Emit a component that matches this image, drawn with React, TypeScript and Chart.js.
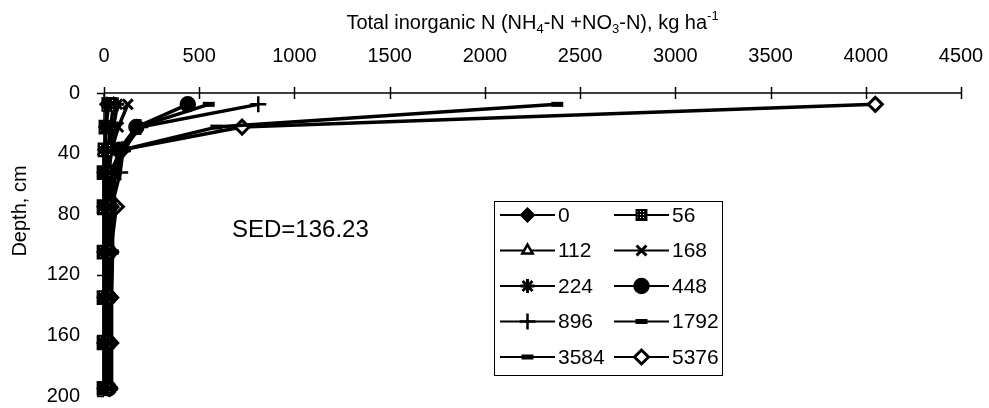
import React, { useEffect, useRef } from 'react';
import { Chart, registerables } from 'chart.js';
import { drawPoint } from 'chart.js/helpers';

Chart.register(...registerables);

// Sampling depths (cm), midpoints of the soil layers
const depths = [7.5, 22.5, 37.5, 52.5, 75, 105, 135, 165, 195];

// Application rates shown in the legend
const rates = ['0', '56', '112', '168', '224', '448', '896', '1792', '3584', '5376'];

// Total inorganic N (kg/ha) at each depth, one array per rate
const n0 = [15, 10, 5, 0, 0, 0, 0, 0, 0];
const n56 = [25, 10, 5, 0, 0, 0, 0, 0, 0];
const n112 = [50, 35, 20, 15, 10, 10, 10, 10, 10];
const n168 = [125, 75, 40, 25, 15, 15, 15, 15, 15];
const n224 = [70, 50, 35, 25, 20, 20, 20, 20, 20];
const n448 = [440, 170, 80, 45, 30, 25, 25, 25, 25];
const n896 = [810, 190, 100, 85, 40, 35, 30, 30, 30];
const n1792 = [550, 175, 110, 60, 40, 45, 35, 35, 35];
const n3584 = [2380, 590, 100, 45, 45, 45, 40, 40, 40];
const n5376 = [4050, 725, 95, 30, 65, 35, 35, 35, 30];

const seriesValues = [n0, n56, n112, n168, n224, n448, n896, n1792, n3584, n5376];

// Axis tick settings
const xMin = 0;
const xMax = 4500;
const xStep = 500;
const yMin = 0;
const yMax = 200;
const yStep = 40;

const sedText = 'SED=136.23';

const FONT = '"Liberation Sans", Arial, Helvetica, sans-serif';

type MarkerStyle = {
  pointStyle: string;
  radius: number;
  fill: string;
  borderWidth: number;
};

const markerStyles: MarkerStyle[] = [
  { pointStyle: 'rectRot', radius: 7, fill: '#000', borderWidth: 1.5 },
  { pointStyle: 'rect', radius: 9, fill: 'pattern', borderWidth: 2 },
  { pointStyle: 'triangle', radius: 6, fill: '#fff', borderWidth: 2.5 },
  { pointStyle: 'crossRot', radius: 7, fill: '#000', borderWidth: 3 },
  { pointStyle: 'star', radius: 7, fill: '#000', borderWidth: 3 },
  { pointStyle: 'circle', radius: 7.5, fill: '#000', borderWidth: 1.5 },
  { pointStyle: 'cross', radius: 8, fill: '#000', borderWidth: 2.5 },
  { pointStyle: 'line', radius: 6, fill: '#000', borderWidth: 5 },
  { pointStyle: 'line', radius: 6, fill: '#000', borderWidth: 5 },
  { pointStyle: 'rectRot', radius: 7, fill: '#fff', borderWidth: 3 },
];

// Dark dotted fill used by the square marker
function makeDottedPattern(): CanvasPattern | string {
  const pc = document.createElement('canvas');
  pc.width = 3;
  pc.height = 3;
  const p = pc.getContext('2d');
  if (!p) return '#333';
  p.fillStyle = '#000';
  p.fillRect(0, 0, 3, 3);
  p.fillStyle = '#fff';
  p.fillRect(1, 1, 1, 1);
  const ctx = document.createElement('canvas').getContext('2d');
  const pat = ctx ? ctx.createPattern(pc, 'repeat') : null;
  return pat || '#333';
}

// Axis lines, crossing tick marks, titles, annotation and the boxed legend
const decorPlugin = {
  id: 'decor',
  beforeDatasetsDraw(chart: any) {
    const { ctx, chartArea, scales } = chart;
    const xs = scales.x;
    const ys = scales.y;
    ctx.save();
    ctx.strokeStyle = '#000';
    ctx.lineWidth = 1.5;
    ctx.beginPath();
    ctx.moveTo(chartArea.left, chartArea.top);
    ctx.lineTo(chartArea.right, chartArea.top);
    ctx.moveTo(chartArea.left, chartArea.top);
    ctx.lineTo(chartArea.left, chartArea.bottom);
    xs.ticks.forEach((t: any) => {
      const px = Math.round(xs.getPixelForValue(t.value)) + 0.5;
      ctx.moveTo(px, chartArea.top - 6);
      ctx.lineTo(px, chartArea.top + 6);
    });
    ys.ticks.forEach((t: any) => {
      const py = Math.round(ys.getPixelForValue(t.value)) + 0.5;
      ctx.moveTo(chartArea.left - 7, py);
      ctx.lineTo(chartArea.left, py);
    });
    ctx.stroke();
    ctx.restore();
  },
  afterDraw(chart: any) {
    const { ctx, chartArea } = chart;
    ctx.save();
    ctx.fillStyle = '#000';
    ctx.textBaseline = 'middle';

    // X-axis title with sub- and superscripts
    const parts: { t: string; k: 'n' | 'sub' | 'sup' }[] = [
      { t: 'Total inorganic N (NH', k: 'n' },
      { t: '4', k: 'sub' },
      { t: '-N +NO', k: 'n' },
      { t: '3', k: 'sub' },
      { t: '-N), kg ha', k: 'n' },
      { t: '-1', k: 'sup' },
    ];
    const fontFor = (k: string) => (k === 'n' ? `20px ${FONT}` : `13px ${FONT}`);
    let total = 0;
    parts.forEach((p) => {
      ctx.font = fontFor(p.k);
      total += ctx.measureText(p.t).width;
    });
    let cx = (chartArea.left + chartArea.right) / 2 - total / 2;
    const ty = 23;
    ctx.textAlign = 'left';
    parts.forEach((p) => {
      ctx.font = fontFor(p.k);
      const dy = p.k === 'sub' ? 6 : p.k === 'sup' ? -7 : 0;
      ctx.fillText(p.t, cx, ty + dy);
      cx += ctx.measureText(p.t).width;
    });

    // Y-axis title
    ctx.save();
    ctx.translate(20, 211);
    ctx.rotate(-Math.PI / 2);
    ctx.textAlign = 'center';
    ctx.font = `20px ${FONT}`;
    ctx.fillText('Depth, cm', 0, 0);
    ctx.restore();

    // SED annotation
    ctx.font = `24px ${FONT}`;
    ctx.textAlign = 'left';
    ctx.fillText(sedText, 232, 230);

    // Legend box
    const bx = 494.5;
    const by = 201.5;
    const bw = 228;
    const bh = 174;
    ctx.strokeStyle = '#000';
    ctx.lineWidth = 1;
    ctx.strokeRect(bx, by, bw, bh);

    const rowY0 = 215;
    const rowDy = 35.5;
    const colX = [500, 614];
    const lineLen = 55;
    ctx.font = `21px ${FONT}`;
    chart.data.datasets.forEach((ds: any, i: number) => {
      const row = Math.floor(i / 2);
      const col = i % 2;
      const y = rowY0 + row * rowDy;
      const x1 = colX[col];
      const x2 = x1 + lineLen;
      ctx.strokeStyle = '#000';
      ctx.lineWidth = 2;
      ctx.beginPath();
      ctx.moveTo(x1, y);
      ctx.lineTo(x2, y);
      ctx.stroke();
      ctx.fillStyle = ds.pointBackgroundColor;
      ctx.strokeStyle = '#000';
      ctx.lineWidth = ds.pointBorderWidth;
      const legendRadius = ds.pointStyle === 'rect' ? 7 : ds.pointRadius;
      drawPoint(ctx, {
        pointStyle: ds.pointStyle,
        radius: legendRadius,
        borderWidth: ds.pointBorderWidth,
        rotation: 0,
      } as any, (x1 + x2) / 2, y);
      ctx.fillStyle = '#000';
      ctx.textAlign = 'left';
      ctx.fillText(ds.label, x2 + 3, y + 1);
    });
    ctx.restore();
  },
};

export default function App() {
  const canvasRef = useRef<HTMLCanvasElement | null>(null);

  useEffect(() => {
    const canvas = canvasRef.current;
    if (!canvas) return;
    const pattern = makeDottedPattern();

    const datasets = rates.map((label, i) => {
      const st = markerStyles[i];
      return {
        label,
        data: depths.map((d, j) => ({ x: seriesValues[i][j], y: d })),
        showLine: true,
        borderColor: '#000',
        borderWidth: 3.5,
        borderJoinStyle: 'round' as const,
        pointStyle: st.pointStyle as any,
        pointRadius: st.radius,
        pointBackgroundColor: st.fill === 'pattern' ? pattern : st.fill,
        pointBorderColor: '#000',
        pointBorderWidth: st.borderWidth,
        clip: false as any,
      };
    });

    const chart = new Chart(canvas, {
      type: 'scatter',
      data: { datasets: datasets as any },
      options: {
        animation: false,
        responsive: false,
        devicePixelRatio: 1,
        events: [],
        layout: { padding: { left: 0, right: 28, top: 0, bottom: 12 } },
        plugins: {
          legend: { display: false },
          tooltip: { enabled: false },
          title: { display: false },
        },
        scales: {
          x: {
            type: 'linear',
            position: 'top',
            min: xMin,
            max: xMax,
            grid: { display: false },
            border: { display: false },
            ticks: {
              stepSize: xStep,
              padding: 17,
              color: '#000',
              maxRotation: 0,
              font: { family: FONT, size: 20 },
              callback: (v: any) => String(v),
            },
            afterFit: (s: any) => {
              s.height = 93;
              s.paddingLeft = 0;
              s.paddingRight = 0;
              s.paddingTop = 0;
              s.paddingBottom = 0;
            },
          },
          y: {
            type: 'linear',
            reverse: true,
            min: yMin,
            max: yMax,
            grid: { display: false },
            border: { display: false },
            ticks: {
              stepSize: yStep,
              padding: 16,
              color: '#000',
              font: { family: FONT, size: 20 },
              callback: (v: any) => String(v),
            },
            afterFit: (s: any) => {
              s.width = 104;
              s.paddingLeft = 0;
              s.paddingRight = 0;
              s.paddingTop = 0;
              s.paddingBottom = 0;
            },
          },
        },
      },
      plugins: [decorPlugin],
    });

    return () => chart.destroy();
  }, []);

  return (
    <div style={{ position: 'fixed', left: 0, top: 0, width: 989, height: 408, background: '#fff' }}>
      <canvas ref={canvasRef} width={989} height={408} style={{ display: 'block' }} />
    </div>
  );
}
